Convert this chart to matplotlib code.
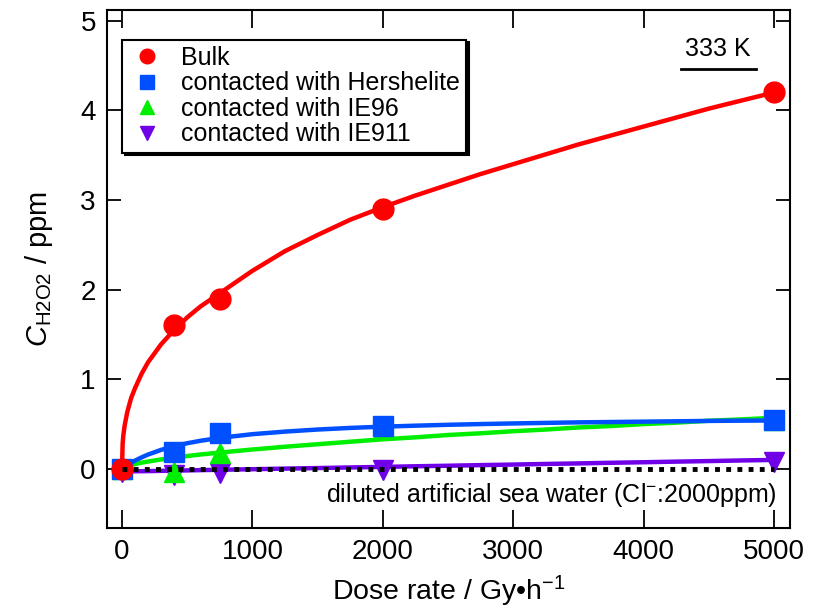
import numpy as np
import matplotlib
matplotlib.use("Agg")
import matplotlib.pyplot as plt

plt.rcParams['font.family'] = ['Liberation Sans', 'DejaVu Sans']
plt.rcParams['mathtext.fontset'] = 'custom'
plt.rcParams['mathtext.rm'] = 'Liberation Sans'
plt.rcParams['mathtext.it'] = 'Liberation Sans:italic'

# ---- data ----
dose = [0, 400, 750, 2000, 5000]
bulk = [0.0, 1.6, 1.9, 2.9, 4.2]
hershelite = [0.0, 0.19, 0.40, 0.48, 0.54]
ie96 = [0.0, -0.03, 0.18, 0.45, 0.55]
ie911 = [-0.03, -0.07, -0.05, -0.01, 0.08]

labels = ["Bulk", "contacted with Hershelite", "contacted with IE96", "contacted with IE911"]

# fitted curves
fit_x = [0, 5, 10, 20, 40, 70, 100, 150, 200, 300, 400, 500, 600, 750, 1000,
         1250, 1500, 1750, 2000, 2250, 2500, 2750, 3000, 3250, 3500, 3750,
         4000, 4250, 4500, 4750, 5000]
fit_bulk = [0.0, 0.28, 0.37, 0.48, 0.63, 0.79, 0.90, 1.06, 1.19, 1.39, 1.55,
            1.69, 1.81, 1.96, 2.21, 2.43, 2.61, 2.78, 2.92, 3.05, 3.17, 3.29,
            3.40, 3.51, 3.62, 3.72, 3.82, 3.92, 4.02, 4.11, 4.20]
fit_hers = [0.0, 0.005, 0.011, 0.021, 0.042, 0.068, 0.092, 0.128, 0.160, 0.212,
            0.253, 0.286, 0.313, 0.346, 0.387, 0.416, 0.439, 0.457, 0.471, 0.482,
            0.492, 0.500, 0.507, 0.513, 0.519, 0.523, 0.527, 0.531, 0.535, 0.538,
            0.540]
fit_ie96 = [0.0, 0.009, 0.014, 0.021, 0.032, 0.044, 0.054, 0.069, 0.082, 0.105,
            0.125, 0.143, 0.160, 0.182, 0.216, 0.247, 0.275, 0.303, 0.330, 0.352,
            0.378, 0.397, 0.420, 0.439, 0.462, 0.478, 0.500, 0.516, 0.537, 0.552,
            0.570]
fit_ie911 = [-0.030, -0.030, -0.030, -0.029, -0.029, -0.028, -0.027, -0.026,
             -0.025, -0.022, -0.020, -0.017, -0.014, -0.010, -0.004, 0.003, 0.009,
             0.016, 0.022, 0.029, 0.035, 0.042, 0.048, 0.055, 0.061, 0.068, 0.074,
             0.081, 0.087, 0.094, 0.100]

zero_x = [0, 5000]
zero_y = [0, 0]

xticks = [0, 1000, 2000, 3000, 4000, 5000]
yticks = [0, 1, 2, 3, 4, 5]

red = '#ff0000'
blue = '#0050ff'
green = '#00ee00'
purple = '#7000e8'

fig = plt.figure(figsize=(8.21, 6.11), dpi=100)
ax = fig.add_axes([0.1303, 0.1358, 0.8319, 0.8478])

lw = 3.2
ms = 15
ax.plot(fit_x, fit_ie911, color=purple, lw=lw, zorder=2)
ax.plot(fit_x, fit_ie96, color=green, lw=lw, zorder=2)
ax.plot(fit_x, fit_hers, color=blue, lw=lw, zorder=2)
ax.plot(fit_x, fit_bulk, color=red, lw=lw, zorder=2)

ax.plot(dose, ie911, ls='none', marker='v', ms=ms, color=purple, zorder=3, label=labels[3])
ax.plot(dose, ie96, ls='none', marker='^', ms=ms, color=green, zorder=3, label=labels[2])
ax.plot(dose, hershelite, ls='none', marker='s', ms=ms - 1, color=blue, zorder=4, label=labels[1])
ax.plot(dose, bulk, ls='none', marker='o', ms=ms, color=red, zorder=5, label=labels[0])

ax.plot(zero_x, zero_y, color='black', lw=3.5, ls=(0, (1, 1.3)), zorder=6)

ax.set_xlim(-115, 5122)
ax.set_ylim(-0.66, 5.12)
ax.set_xticks(xticks)
ax.set_yticks(yticks)
ax.tick_params(direction='in', top=True, right=True, labelsize=20, width=1.3, pad=8)
ax.tick_params(axis='x', length=13)
ax.tick_params(axis='y', length=10)
for s in ax.spines.values():
    s.set_linewidth(1.5)

ax.set_xlabel('Dose rate / Gy\u2022h$^{-1}$', fontsize=20.5, labelpad=6)
ax.set_ylabel(r'$C_{\mathrm{H2O2}}$ / ppm', fontsize=21, labelpad=18)

handles, labs = ax.get_legend_handles_labels()
order = [3, 2, 1, 0]
leg = ax.legend([handles[i] for i in order], [labs[i] for i in order],
                loc='upper left', bbox_to_anchor=(0.022, 0.943), fontsize=18,
                markerscale=0.7, handletextpad=0.6, labelspacing=0.06,
                borderpad=0.25, fancybox=False, edgecolor='black',
                shadow={'color': 'black', 'alpha': 1.0}, framealpha=1,
                borderaxespad=0, handlelength=1.5)
leg.get_frame().set_linewidth(1.5)

ax.text(0.98, 0.063, 'diluted artificial sea water (Cl$^{-}$:2000ppm)',
        transform=ax.transAxes, ha='right', va='center', fontsize=18)
ax.text(0.895, 0.925, '333 K', transform=ax.transAxes, ha='center', va='center', fontsize=18)
ax.plot([0.84, 0.95], [0.887, 0.887], transform=ax.transAxes, color='black', lw=2)

fig.savefig('out.png', dpi=100)
